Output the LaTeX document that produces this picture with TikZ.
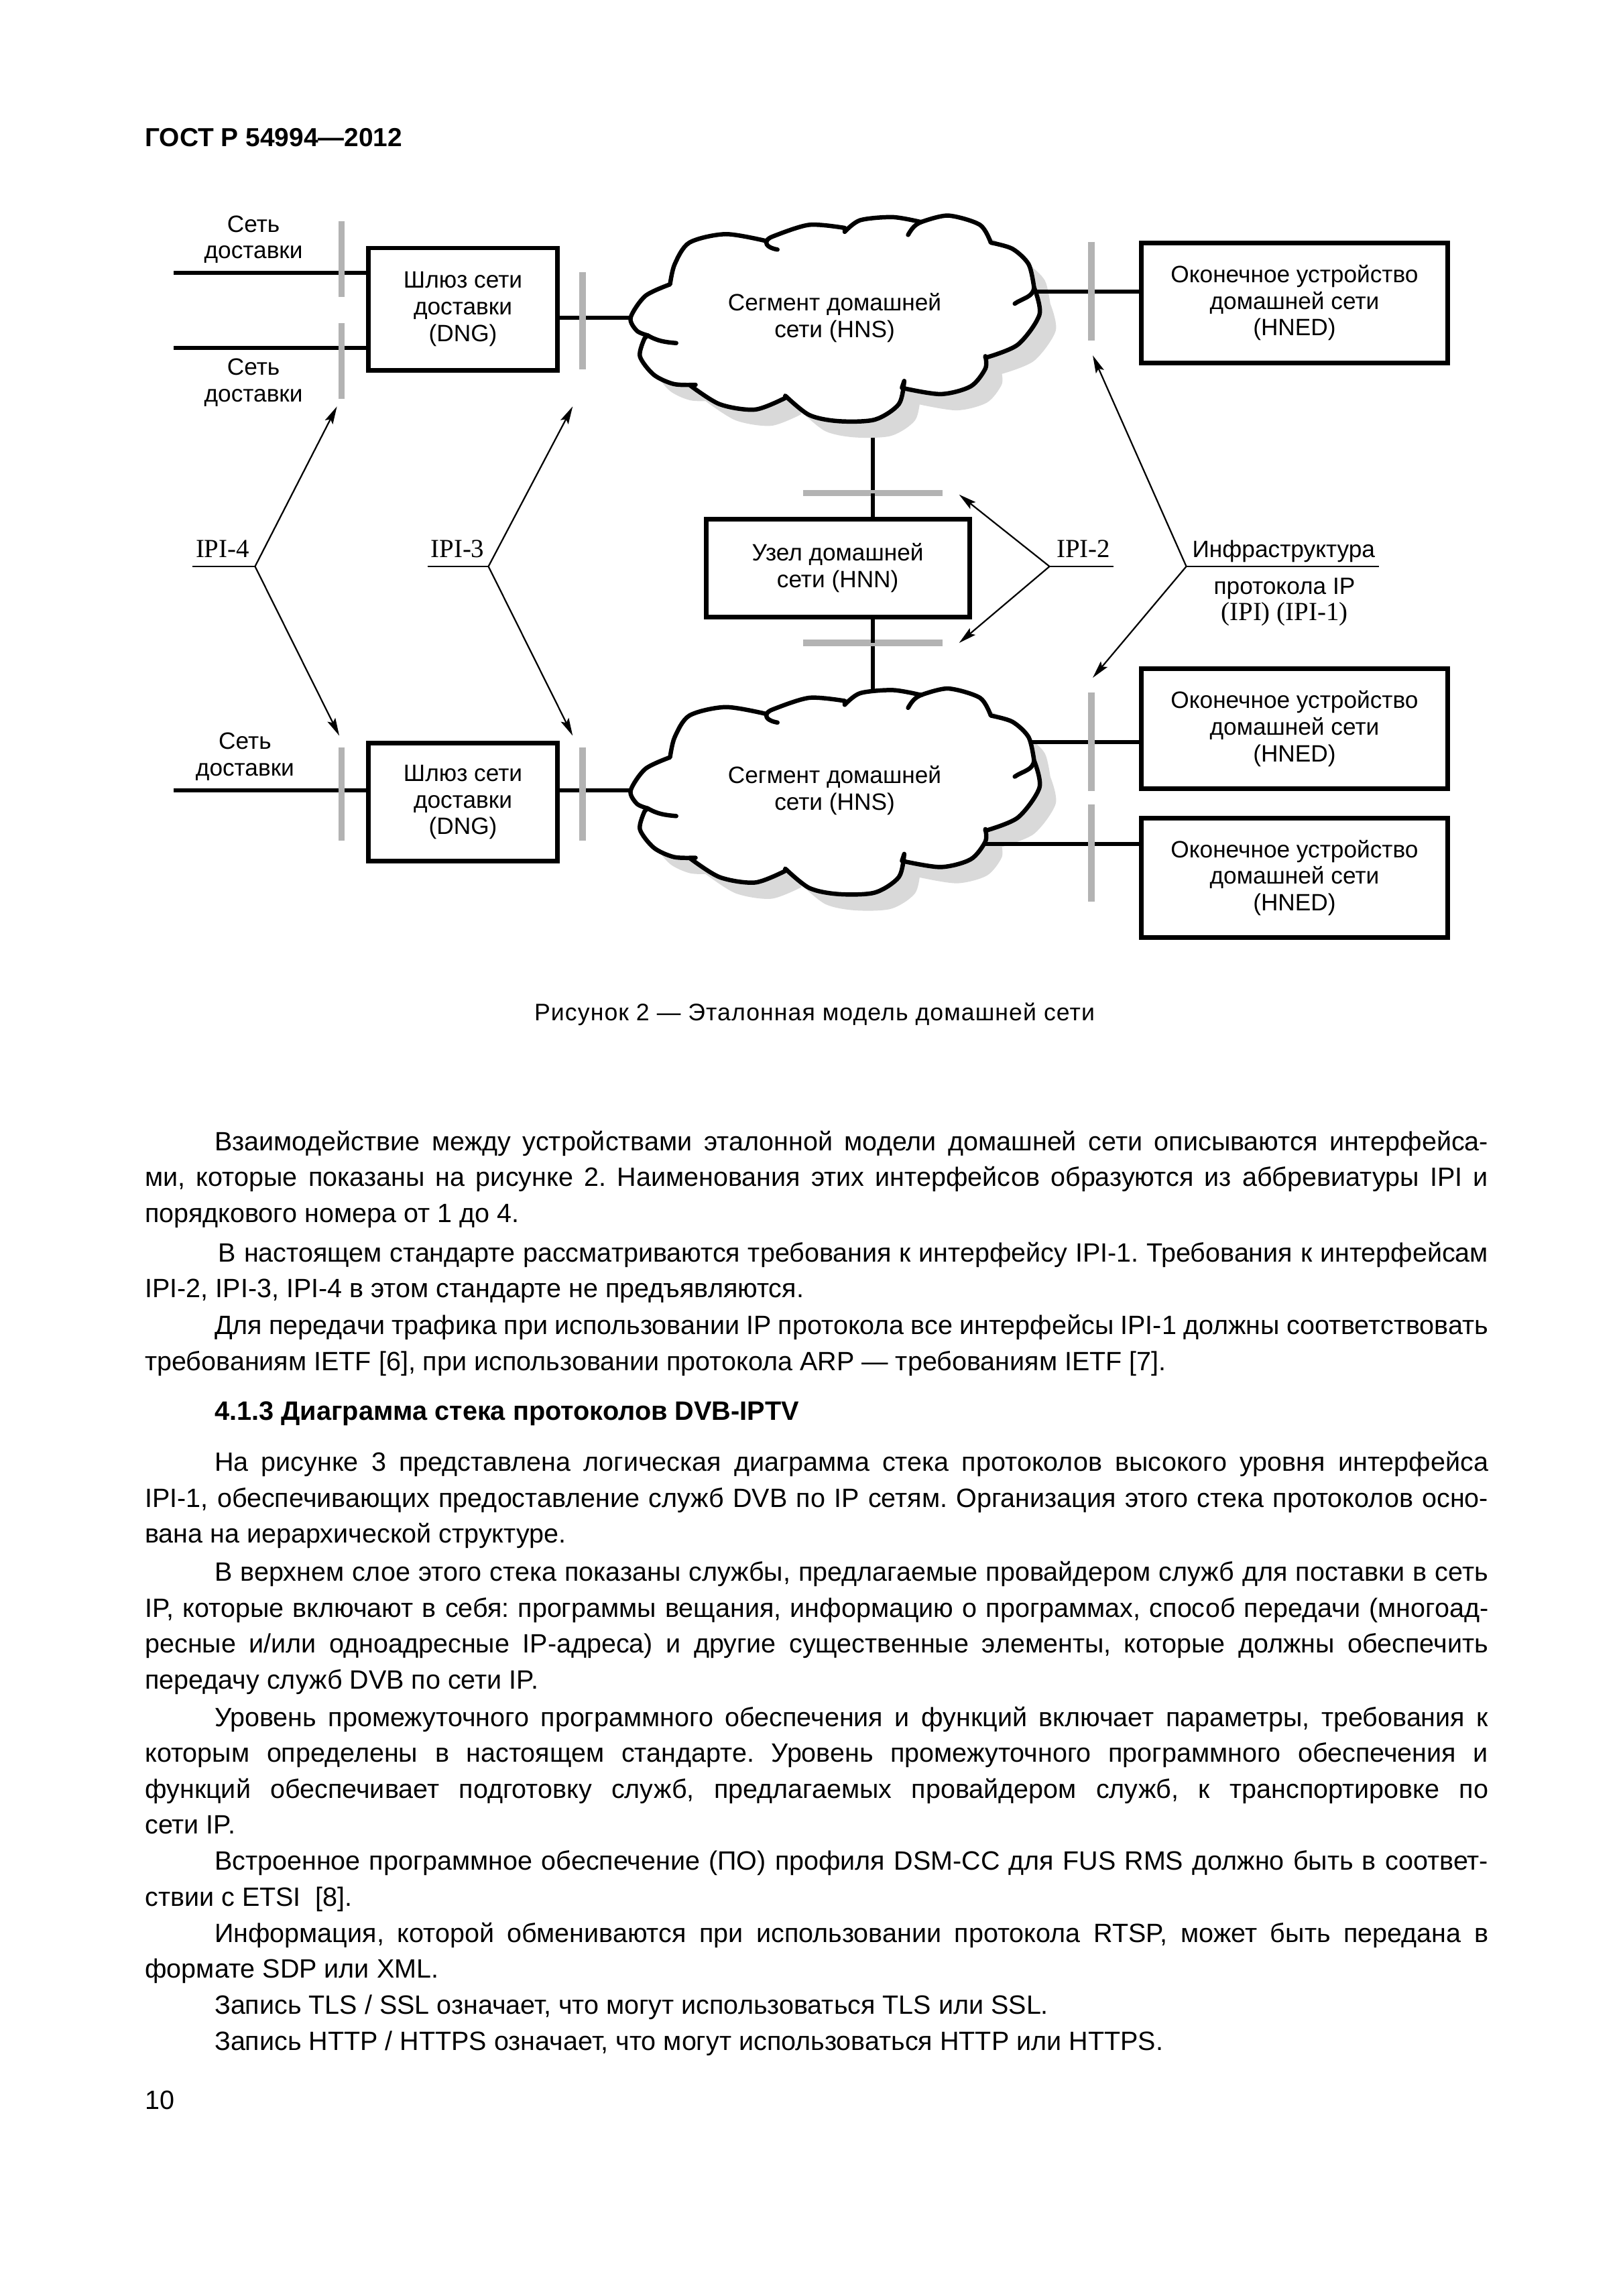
\documentclass[tikz,border=0pt]{standalone}
\usepackage{fontspec}
\setmainfont{Liberation Sans}
\newfontfamily\ipifont{Liberation Serif}
\usepackage{xcolor}
\usepackage{tikz}
\usetikzlibrary{arrows.meta,positioning}
\definecolor{GostBar}{HTML}{B3B3B3}
\definecolor{GostShade}{HTML}{D9D9D9}

\newcommand\diagfont{\fontsize{8.7}{9.8}\selectfont}
\newcommand\bodyfont{\fontsize{9.75}{13.2}\selectfont\frenchspacing}
% outline of the home network segment (cloud), centre at (0,0)
\newcommand\hnsoutline{%
  plot[smooth] coordinates {(-2.13,0.43) (-2.45,0.28) (-2.64,0) (-2.56,-0.17) (-2.42,-0.23)}
  -- plot[smooth] coordinates {(-2.46,-0.27) (-2.52,-0.50) (-2.34,-0.74) (-2.08,-0.86) (-1.80,-0.87)}
  -- plot[smooth] coordinates {(-1.88,-0.87) (-1.49,-1.12) (-1.03,-1.19) (-0.64,-1.04)}
  -- plot[smooth] coordinates {(-0.64,-1.01) (-0.33,-1.26) (0.05,-1.34) (0.52,-1.32) (0.83,-1.12) (0.90,-0.82)}
  -- plot[smooth] coordinates {(0.87,-0.91) (1.37,-0.99) (1.76,-0.89) (1.95,-0.66) (1.95,-0.50)}
  -- plot[smooth] coordinates {(1.95,-0.52) (2.37,-0.35) (2.65,0.04) (2.58,0.39)}
  -- plot[smooth] coordinates {(2.58,0.39) (2.51,0.69) (2.30,0.89) (2.02,0.97)}
  -- plot[smooth] coordinates {(2.02,0.97) (1.88,1.20) (1.47,1.32) (1.13,1.24)}
  -- plot[smooth] coordinates {(1.10,1.24) (0.75,1.30) (0.33,1.26) (0.13,1.11)}
  -- plot[smooth] coordinates {(0.13,1.16) (-0.33,1.20) (-0.80,1.05) (-0.88,0.99)}
  -- plot[smooth] coordinates {(-0.88,0.99) (-1.41,1.08) (-1.88,0.97) (-2.07,0.69) (-2.13,0.43)}
  -- cycle}

\tikzset{
  netbox/.style={draw, line width=1.7pt, inner sep=0pt, align=center, font=\diagfont},
  net/.style={line width=1.5pt},
  ifbar/.style={GostBar, line width=2.4pt},
  thinline/.style={line width=0.55pt},
  ipiarrow/.style={thinline, -{Stealth[length=6.5pt,width=3.2pt,inset=1.2pt]}},
  ipilabel/.style={font=\ipifont\fontsize{9.6}{11}\selectfont, inner sep=1pt, anchor=base},
  para/.style={font=\bodyfont, text width=17.38cm, align=justify, inner sep=0pt, anchor=base west},
  hnsshade/.pic={\fill[GostShade, shift={(0.21,-0.21)}] \hnsoutline;},
  hnscloud/.pic={
    \filldraw[fill=white, line width=1.6pt, line join=round] \hnsoutline;
    \draw[line width=1.6pt, line cap=round] (2.58,0.39) to[out=-95,in=35] (2.33,0.18);
    \draw[line width=1.6pt, line cap=round] (1.13,1.24) to[out=200,in=60] (0.95,1.07);
    \draw[line width=1.6pt, line cap=round] (-0.88,0.99) to[out=-110,in=170] (-0.74,0.88);
    \draw[line width=1.6pt, line cap=round] (-2.42,-0.23) to[out=-30,in=175] (-2.05,-0.33);
  },
}

\begin{document}
\begin{tikzpicture}
  \path[use as bounding box, fill=white] (0,0) rectangle (21,29.71);

  \node[font=\bfseries\fontsize{9.6}{11}\selectfont, anchor=base west, inner sep=0pt] (gostHeader) at (1.87,27.81) {ГОСТ Р 54994—2012};

  % boxes
  \node[netbox, minimum width=2.45cm, minimum height=1.58cm] (dngTop) at (5.99,25.71) {Шлюз сети\\доставки\\(DNG)};
  \node[netbox, minimum width=2.45cm, minimum height=1.53cm] (dngBot) at (5.99,19.33) {Шлюз сети\\доставки\\(DNG)};
  \node[netbox, minimum width=3.41cm, minimum height=1.27cm] (hnnHome) at (10.84,22.36) {Узел домашней\\сети (HNN)};
  \node[netbox, minimum width=3.97cm, minimum height=1.55cm] (hnedA) at (16.75,25.79) {Оконечное устройство\\домашней сети\\(HNED)};
  \node[netbox, minimum width=3.97cm, minimum height=1.55cm] (hnedB) at (16.75,20.28) {Оконечное устройство\\домашней сети\\(HNED)};
  \node[netbox, minimum width=3.97cm, minimum height=1.55cm] (hnedC) at (16.75,18.35) {Оконечное устройство\\домашней сети\\(HNED)};

  \node[font=\diagfont, align=center] (netAlbl) at (3.28,26.61) {Сеть\\доставки};
  \node[font=\diagfont, align=center] (netBlbl) at (3.28,24.76) {Сеть\\доставки};
  \node[font=\diagfont, align=center] (netClbl) at (3.17,19.92) {Сеть\\доставки};

  \coordinate (hnsTop) at (10.80,25.60);
  \coordinate (hnsBot) at (10.80,19.48);
  \coordinate (netA) at (2.25,26.18);
  \coordinate (netB) at (2.25,25.21);
  \coordinate (netC) at (2.25,19.48);
  \coordinate (hnnUp) at ([xshift=4.5mm]hnnHome.north);
  \coordinate (hnnDn) at ([xshift=4.5mm]hnnHome.south);
  \coordinate (hnedAin) at ([yshift=1.5mm]hnedA.west);
  \coordinate (hnedBin) at ([yshift=-1.7mm]hnedB.west);
  \coordinate (hnedCin) at ([yshift=4.4mm]hnedC.west);

  % links
  \draw[net] (hnnUp) -- (hnnUp |- hnsTop);
  \draw[net] (hnnDn) -- (hnnDn |- hnsBot);
  \pic at (hnsTop) {hnsshade};
  \pic at (hnsBot) {hnsshade};
  \draw[net] (netA) -- (netA -| dngTop.west);
  \draw[net] (netB) -- (netB -| dngTop.west);
  \draw[net] (netC) -- (netC -| dngBot.west);
  \draw[net] (dngTop.east |- hnsTop) -- (hnsTop);
  \draw[net] (dngBot.east |- hnsBot) -- (hnsBot);
  \draw[net] (hnsTop |- hnedAin) -- (hnedAin);
  \draw[net] (hnsBot |- hnedBin) -- (hnedBin);
  \draw[net] (hnsBot |- hnedCin) -- (hnedCin);

  % interface marks
  \draw[ifbar] (4.42,26.85) -- (4.42,25.87);
  \draw[ifbar] (4.42,25.53) -- (4.42,24.55);
  \draw[ifbar] (7.54,26.19) -- (7.54,24.93);
  \draw[ifbar] (4.42,20.04) -- (4.42,18.83);
  \draw[ifbar] (7.54,20.04) -- (7.54,18.83);
  \draw[ifbar] (14.12,26.58) -- (14.12,25.30);
  \draw[ifbar] (14.12,20.75) -- (14.12,19.47);
  \draw[ifbar] (14.12,19.30) -- (14.12,18.04);
  \draw[ifbar] (10.39,23.33) -- (12.20,23.33);
  \draw[ifbar] (10.39,21.39) -- (12.20,21.39);
  \draw[net] (hnnUp) -- ++(0,0.3);
  \draw[net] (hnnDn) -- ++(0,-0.3);

  \pic at (hnsTop) {hnscloud};
  \pic at (hnsBot) {hnscloud};
  \node[font=\diagfont, align=center] (hnsTopText) at (hnsTop) {Сегмент домашней\\сети (HNS)};
  \node[font=\diagfont, align=center] (hnsBotText) at (hnsBot) {Сегмент домашней\\сети (HNS)};

  % IPI-4
  \coordinate (ipi4) at (3.30,22.38);
  \coordinate (ipi4up) at (4.36,24.45);
  \coordinate (ipi4dn) at (4.39,20.19);
  \node[ipilabel] (ipi4lbl) at (2.88,22.50) {IPI-4};
  \draw[thinline] (ipi4lbl.west |- ipi4) -- (ipi4);
  \draw[ipiarrow] (ipi4) -- (ipi4up);
  \draw[ipiarrow] (ipi4) -- (ipi4dn);

  % IPI-3
  \coordinate (ipi3) at (6.32,22.38);
  \coordinate (ipi3up) at (7.41,24.45);
  \coordinate (ipi3dn) at (7.41,20.19);
  \node[ipilabel] (ipi3lbl) at (5.92,22.50) {IPI-3};
  \draw[thinline] (ipi3lbl.west |- ipi3) -- (ipi3);
  \draw[ipiarrow] (ipi3) -- (ipi3up);
  \draw[ipiarrow] (ipi3) -- (ipi3dn);

  % IPI-2
  \coordinate (ipi2) at (13.58,22.38);
  \coordinate (ipi2up) at (12.41,23.31);
  \coordinate (ipi2dn) at (12.41,21.39);
  \node[ipilabel] (ipi2lbl) at (14.02,22.50) {IPI-2};
  \draw[thinline] (ipi2) -- (ipi2lbl.east |- ipi2);
  \draw[ipiarrow] (ipi2) -- (ipi2up);
  \draw[ipiarrow] (ipi2) -- (ipi2dn);

  % IPI-1
  \coordinate (ipi1) at (15.35,22.38);
  \coordinate (ipi1up) at (14.14,25.11);
  \coordinate (ipi1dn) at (14.14,20.94);
  \node[font=\diagfont, inner sep=1pt, anchor=base] (ipi1lbl) at (16.61,22.50) {Инфраструктура};
  \node[font=\diagfont, inner sep=0pt, anchor=north, align=center] (ipi1sub) at (16.62,22.24) {протокола IP\\{\ipifont\fontsize{9.6}{9.8}\selectfont (IPI) (IPI-1)}};
  \draw[thinline] (ipi1) -- (17.84,22.38);
  \draw[ipiarrow] (ipi1) -- (ipi1up);
  \draw[ipiarrow] (ipi1) -- (ipi1dn);

  \node[font=\fontsize{8.8}{11}\selectfont\addfontfeature{LetterSpace=3}, anchor=base] (figCaption) at (10.54,16.50) {Рисунок 2 — Эталонная модель домашней сети};

  % text of the page
  \node[para] (parA) at (1.87,14.82) {\hspace*{0.9cm}Взаимодействие между устройствами эталонной модели домашней сети описываются интерфейса-\linebreak ми, которые показаны на рисунке 2. Наименования этих интерфейсов образуются из аббревиатуры IPI и\linebreak порядкового номера от 1 до 4.};
  \node[para] (parB) at (1.87,13.38) {\hspace*{0.95cm}В настоящем стандарте рассматриваются требования к интерфейсу IPI-1. Требования к интерфейсам\linebreak IPI-2, IPI-3, IPI-4 в этом стандарте не предъявляются.};
  \node[para] (parC) at (1.87,12.44) {\hspace*{0.9cm}Для передачи трафика при использовании IP протокола все интерфейсы IPI-1 должны соответствовать\linebreak требованиям IETF [6], при использовании протокола ARP — требованиям IETF [7].};
  \node[font=\bfseries\fontsize{9.8}{12}\selectfont, anchor=base west, inner sep=0pt] (secHeading) at (2.77,11.33) {4.1.3 Диаграмма стека протоколов DVB-IPTV};
  \node[para] (parD) at (1.87,10.67) {\hspace*{0.9cm}На рисунке 3 представлена логическая диаграмма стека протоколов высокого уровня интерфейса\linebreak IPI-1, обеспечивающих предоставление служб DVB по IP сетям. Организация этого стека протоколов осно-\linebreak вана на иерархической структуре.};
  \node[para] (parE) at (1.87,9.25) {\hspace*{0.9cm}В верхнем слое этого стека показаны службы, предлагаемые провайдером служб для поставки в сеть\linebreak IP, которые включают в себя: программы вещания, информацию о программах, способ передачи (многоад-\linebreak ресные и/или одноадресные IP-адреса) и другие существенные элементы, которые должны обеспечить\linebreak передачу служб DVB по сети IP.};
  \node[para] (parF) at (1.87,7.37) {\hspace*{0.9cm}Уровень промежуточного программного обеспечения и функций включает параметры, требования к\linebreak которым определены в настоящем стандарте. Уровень промежуточного программного обеспечения и\linebreak функций обеспечивает подготовку служб, предлагаемых провайдером служб, к транспортировке по\linebreak сети IP.};
  \node[para] (parG) at (1.87,5.51) {\hspace*{0.9cm}Встроенное программное обеспечение (ПО) профиля DSM-CC для FUS RMS должно быть в соответ-\linebreak ствии с ETSI~~[8].};
  \node[para] (parH) at (1.87,4.58) {\hspace*{0.9cm}Информация, которой обмениваются при использовании протокола RTSP, может быть передана в\linebreak формате SDP или XML.};
  \node[para] (parI) at (1.87,3.65) {\hspace*{0.9cm}Запись TLS / SSL означает, что могут использоваться TLS или SSL.};
  \node[para] (parJ) at (1.87,3.18) {\hspace*{0.9cm}Запись HTTP / HTTPS означает, что могут использоваться HTTP или HTTPS.};
  \node[font=\bodyfont, anchor=base west, inner sep=0pt] (pageNo) at (1.87,2.42) {10};
\end{tikzpicture}
\end{document}
